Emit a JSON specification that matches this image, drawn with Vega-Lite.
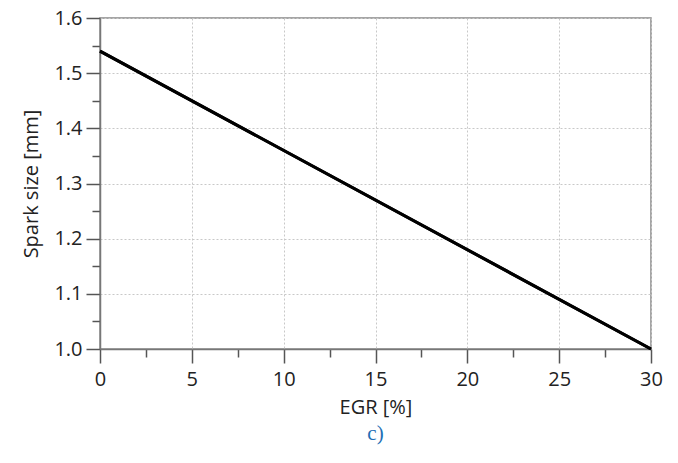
{
  "$schema": "https://vega.github.io/schema/vega-lite/v6.json",
  "autosize": "none",
  "width": 551,
  "height": 331,
  "padding": {"left": 100, "top": 18, "right": 27, "bottom": 114},
  "background": "white",
  "config": {
    "view": {"stroke": "#888", "strokeWidth": 1.5},
    "font": "Open Sans",
    "style": {
      "guide-label": {"fontSize": 20, "font": "Open Sans", "fill": "#222"},
      "guide-title": {"fontSize": 20, "font": "Open Sans", "fill": "#222", "fontWeight": "normal"}
    },
    "axis": {
      "labelFont": "Open Sans", "labelFontSize": 20, "labelColor": "#222",
      "titleFont": "Open Sans", "titleFontSize": 20, "titleFontWeight": "normal", "titleColor": "#222",
      "domainColor": "#777", "domainWidth": 1.5,
      "tickColor": "#555", "tickWidth": 1.5,
      "gridDash": [2, 2], "gridWidth": 1, "gridColor": "#c8c8c8",
      "labelFlush": false
    }
  },
  "title": {
    "text": "c)",
    "orient": "bottom",
    "anchor": "middle",
    "font": "Liberation Serif",
    "fontSize": 21,
    "fontWeight": "normal",
    "color": "#1f6fb5",
    "offset": 6
  },
  "data": {"values": [
    {"egr": 0, "spark": 1.54},
    {"egr": 30, "spark": 1.0}
  ]},
  "resolve": {"axis": {"x": "independent", "y": "independent"}},
  "layer": [
    {
      "mark": {"type": "line", "color": "#000", "strokeWidth": 3},
      "encoding": {
        "x": {
          "field": "egr", "type": "quantitative",
          "scale": {"domain": [0, 30], "nice": false, "zero": false},
          "axis": {"orient": "bottom", "title": null, "labels": false, "grid": false, "domain": false,
                   "values": [2.5, 7.5, 12.5, 17.5, 22.5, 27.5], "tickSize": 8}
        },
        "y": {
          "field": "spark", "type": "quantitative",
          "scale": {"domain": [1.0, 1.6], "nice": false, "zero": false},
          "axis": {"orient": "left", "title": null, "labels": false, "grid": false, "domain": false,
                   "values": [1.05, 1.15, 1.25, 1.35, 1.45, 1.55], "tickSize": 8}
        }
      }
    },
    {
      "mark": {"type": "line", "color": "#000", "strokeWidth": 3},
      "encoding": {
        "x": {
          "field": "egr", "type": "quantitative",
          "axis": {
            "orient": "bottom",
            "title": "EGR [%]",
            "titlePadding": 8,
            "values": [0, 5, 10, 15, 20, 25, 30],
            "labelPadding": 6,
            "labelFontSize": 20,
            "tickSize": 14,
            "grid": true
          }
        },
        "y": {
          "field": "spark", "type": "quantitative",
          "axis": {
            "orient": "left",
            "title": "Spark size [mm]",
            "titlePadding": 12,
            "values": [1.0, 1.1, 1.2, 1.3, 1.4, 1.5, 1.6],
            "format": ".1f",
            "labelPadding": 4,
            "labelFontSize": 20,
            "tickSize": 14,
            "grid": true
          }
        }
      }
    }
  ]
}
